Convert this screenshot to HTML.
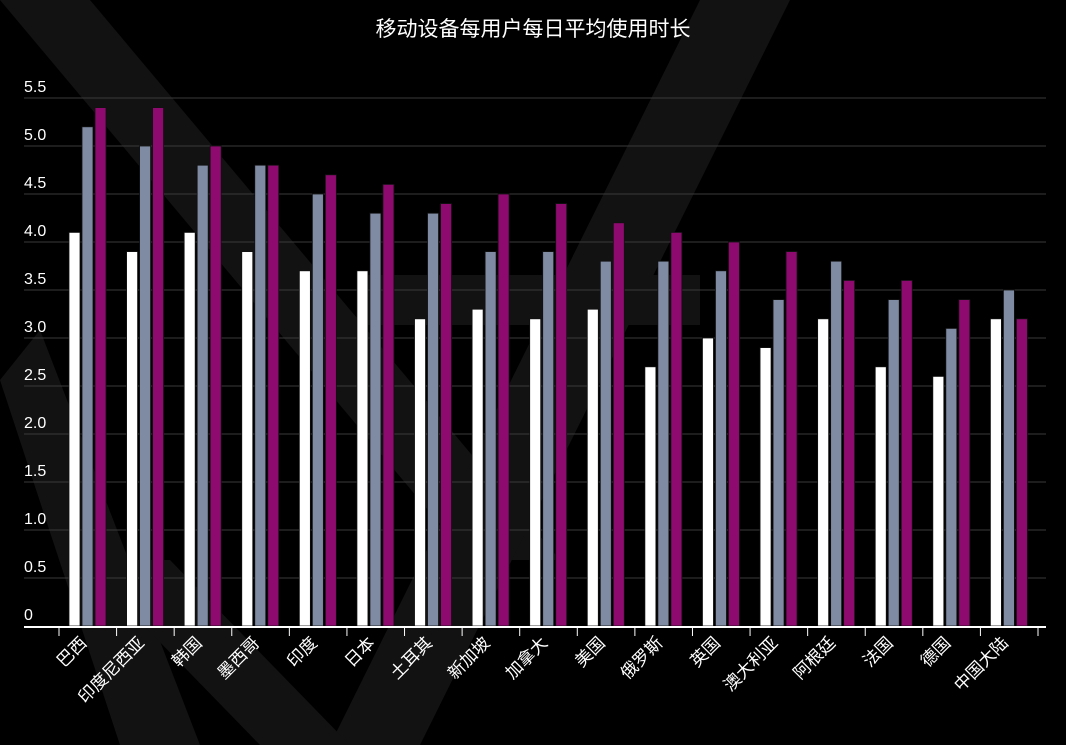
<!DOCTYPE html>
<html><head><meta charset="utf-8"><style>
body{margin:0;background:#000;}
svg{display:block;font-family:"Liberation Sans","Noto Sans CJK SC",sans-serif;}
</style></head><body>
<svg id="chart" width="1066" height="745" viewBox="0 0 1066 745">
<rect width="1066" height="745" fill="#000"/>
<g fill="#121212">
<polygon points="0,0 90,0 560,560 470,560"/>
<polygon points="700,0 790,0 420,745 330,745"/>
<polygon points="360,275 700,275 700,325 360,325"/>
<polygon points="0,380 40,330 200,745 120,745"/>
<polygon points="80,560 170,560 350,745 260,745"/>
</g>
<text x="533" y="36" fill="#fff" font-size="21" text-anchor="middle">移动设备每用户每日平均使用时长</text>
<g id="grid"></g><g id="bars"></g><g id="xaxis"></g>
</svg>
<script>
const categories=["巴西","印度尼西亚","韩国","墨西哥","印度","日本","土耳其","新加坡","加拿大","美国","俄罗斯","英国","澳大利亚","阿根廷","法国","德国","中国大陆"];
const series1=[4.1,3.9,4.1,3.9,3.7,3.7,3.2,3.3,3.2,3.3,2.7,3.0,2.9,3.2,2.7,2.6,3.2];
const series2=[5.2,5.0,4.8,4.8,4.5,4.3,4.3,3.9,3.9,3.8,3.8,3.7,3.4,3.8,3.4,3.1,3.5];
const series3=[5.4,5.4,5.0,4.8,4.7,4.6,4.4,4.5,4.4,4.2,4.1,4.0,3.9,3.6,3.6,3.4,3.2];
const yTicks=["0","0.5","1.0","1.5","2.0","2.5","3.0","3.5","4.0","4.5","5.0","5.5"];
const NS="http://www.w3.org/2000/svg";
const x0=59,x1=1038,yBase=626,yTop=98,yMax=5.5;
const band=(x1-x0)/categories.length;
const y=v=>yBase-(v/yMax)*(yBase-yTop);
const xc=i=>x0+band*i;
function mk(t,a,p){const e=document.createElementNS(NS,t);for(const k in a)e.setAttribute(k,a[k]);p.appendChild(e);return e;}
const grid=document.getElementById('grid'),bars=document.getElementById('bars'),xa=document.getElementById('xaxis');
yTicks.forEach(t=>{const v=parseFloat(t);
 if(v>0){const l=mk('line',{x1:24,x2:1046,y1:y(v),y2:y(v),stroke:'#3a3a3a','stroke-width':1},grid);
 
 }
 const tx=mk('text',{x:24,y:y(v)-6,fill:'#fff','font-size':16},grid);tx.textContent=t;
 
 
});
const colors=['#ffffff','#7f8aa3','#8e0a6e'];
[series1,series2,series3].forEach((s,si)=>{
 s.forEach((v,i)=>{
  const r=mk('rect',{x:xc(i)+10+si*13,y:y(v),width:11,height:yBase-y(v),fill:colors[si],stroke:'#111','stroke-width':0.8},bars);
  
  
 });
});
const ax=mk('line',{x1:24,x2:1046,y1:yBase+1,y2:yBase+1,stroke:'#fff','stroke-width':2},xa);


for(let i=0;i<=categories.length;i++){
 const t=mk('line',{x1:xc(i),x2:xc(i),y1:yBase,y2:yBase+10,stroke:'#fff','stroke-width':1},xa);
 
 
}
categories.forEach((c,i)=>{
 const cx=xc(i)+band/2,cy=yBase+18;
 const t=mk('text',{x:cx,y:cy,fill:'#fff','font-size':17,'text-anchor':'end',transform:`rotate(-45 ${cx} ${cy})`},xa);
 t.textContent=c;
 
 
});
</script>
</body></html>
